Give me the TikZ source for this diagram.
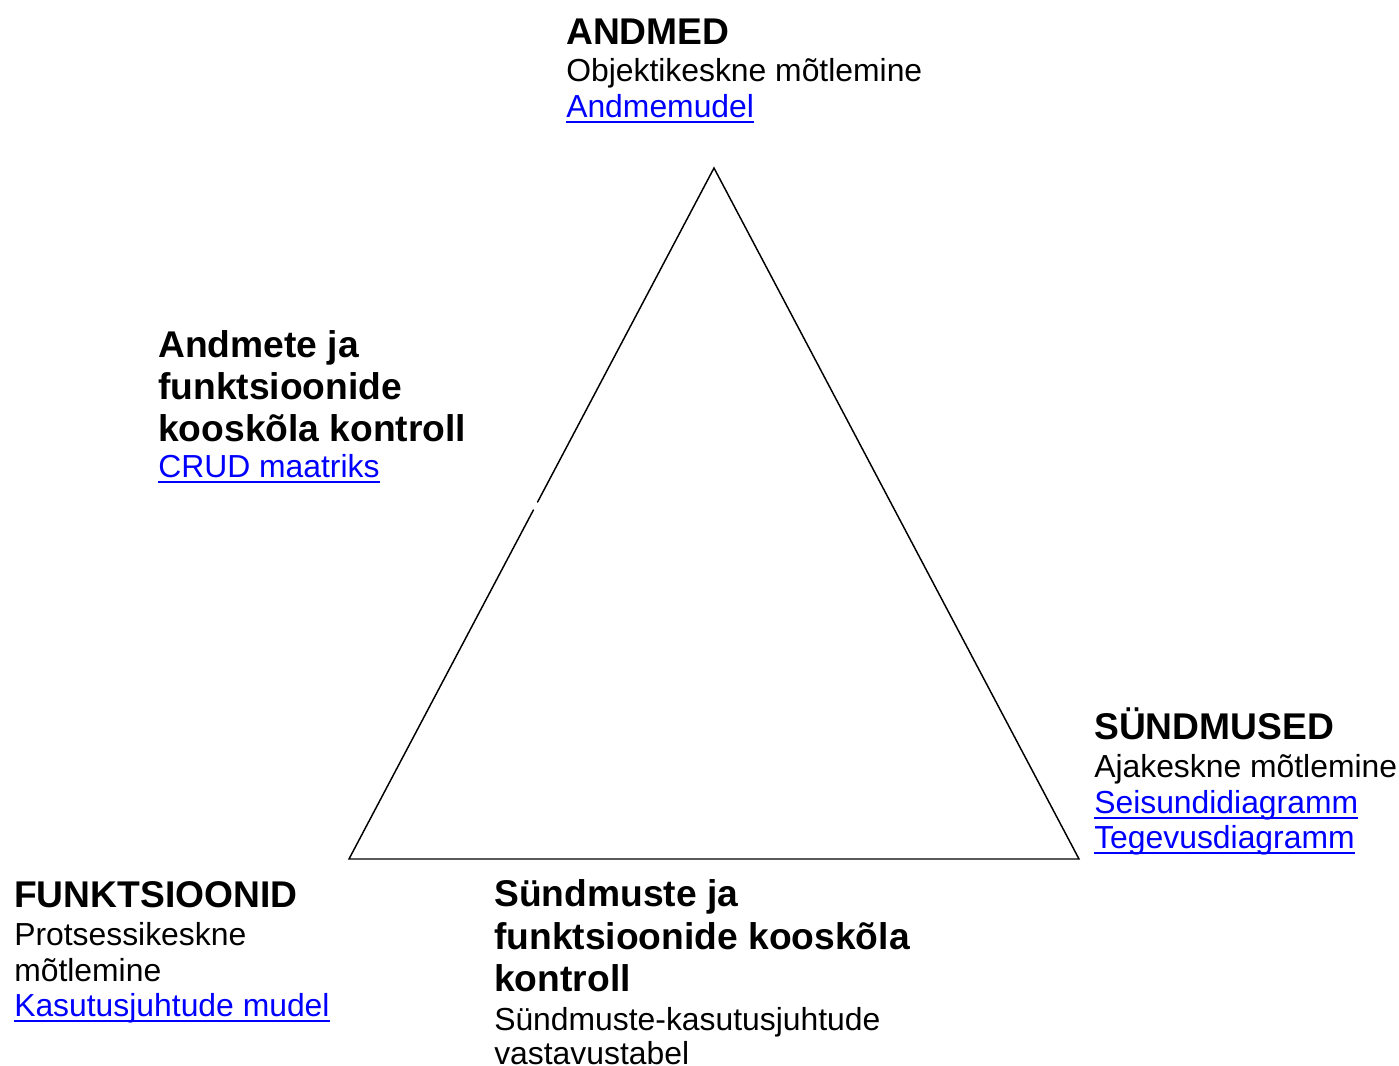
\documentclass[tikz,border=0pt]{standalone}
\usepackage{fontspec}
\setmainfont{Liberation Sans}
\definecolor{linkblue}{RGB}{0,0,255}
\begin{document}
\begin{tikzpicture}[x=0.75pt,y=-0.75pt,
  txt/.style={anchor=base west,inner sep=0pt,font=\fontsize{23.9}{27}\selectfont},
  head/.style={anchor=base west,inner sep=0pt,font=\fontsize{27.9}{32}\selectfont\bfseries},
  link/.style={txt,text=linkblue},
  edge/.style={line width=1.1pt,line cap=round}]
\useasboundingbox (0,0) rectangle (1399,1066);

% triangle corners
\coordinate (top) at (714,168);
\coordinate (bl) at (349,859);
\coordinate (br) at (1079,859);
\coordinate (gapA) at (537.6,502);
\coordinate (gapB) at (533.4,510);
\draw[edge] (gapA) -- (top) -- (br) -- (bl) -- (gapB);

% ANDMED
\node[head] (h1) at (566,45) {ANDMED};
\node[txt] (t1) at (566,81.5) {Objektikeskne mõtlemine};
\node[link] (l1) at (566,117.5) {Andmemudel};

% left side
\node[head] (h2a) at (158,357.5) {Andmete ja};
\node[head] (h2b) at (158,399.5) {funktsioonide};
\node[head] (h2c) at (158,441.5) {kooskõla kontroll};
\node[link] (l2) at (158,477.5) {CRUD maatriks};

% SÜNDMUSED
\node[head] (h3) at (1094,739.5) {SÜNDMUSED};
\node[txt] (t3) at (1094,777.5) {Ajakeskne mõtlemine};
\node[link] (l3a) at (1094,813.5) {Seisundidiagramm};
\node[link] (l3b) at (1094,848.5) {Tegevusdiagramm};

% FUNKTSIOONID
\node[head] (h4) at (14,907.5) {FUNKTSIOONID};
\node[txt] (t4a) at (14,945.5) {Protsessikeskne};
\node[txt] (t4b) at (14,981.5) {mõtlemine};
\node[link] (l4) at (14,1016.5) {Kasutusjuhtude mudel};

% bottom
\node[head] (h5a) at (494,906.5) {Sündmuste ja};
\node[head] (h5b) at (494,949.5) {funktsioonide kooskõla};
\node[head] (h5c) at (494,991.5) {kontroll};
\node[txt] (t5a) at (494,1030) {Sündmuste-kasutusjuhtude};
\node[txt] (t5b) at (494,1064) {vastavustabel};

% link underlines
\foreach \n in {l1,l2,l3a,l3b,l4}
  \draw[linkblue,line width=1.3pt]
    ([yshift=-3.4pt]\n.base west) -- ([yshift=-3.4pt]\n.base east);
\end{tikzpicture}
\end{document}
